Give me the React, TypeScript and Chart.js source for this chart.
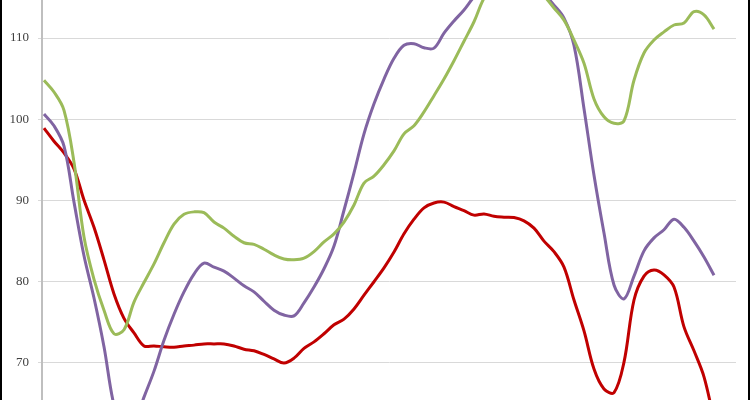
import React, { useEffect, useRef } from "react";
import { Chart, registerables } from "chart.js";

Chart.register(...registerables);

const greenValues = [
  104.8, 103.35, 101.1, 94.7, 85.5, 80.3, 76.5, 73.6, 74.1, 77.5,
  79.9, 82.2, 84.8, 87.1, 88.3, 88.6, 88.5, 87.35, 86.6, 85.6,
  84.8, 84.6, 84.0, 83.3, 82.8, 82.7, 82.9, 83.7, 84.9, 85.9,
  87.35, 89.45, 92.15, 93.0, 94.4, 96.1, 98.2, 99.2, 100.9, 102.9,
  104.95, 107.2, 109.6, 112.0, 114.9, 116.5, 117.5, 118.0, 117.5, 116.5,
  115.2, 113.7, 112.2, 109.75, 106.9, 102.5, 100.3, 99.5, 99.8, 104.8,
  108.15, 109.75, 110.75, 111.6, 111.85, 113.25, 112.85, 111.1,
];

const purpleValues = [
  100.65, 99.2, 96.7, 89.8, 83.2, 78.0, 72.0, 64.8, 61.7, 62.5,
  65.8, 69.0, 72.8, 76.0, 78.75, 80.95, 82.3, 81.8, 81.3, 80.45,
  79.5, 78.75, 77.6, 76.5, 75.9, 75.8, 77.4, 79.35, 81.6, 84.4,
  88.8, 93.4, 98.2, 101.9, 104.95, 107.5, 109.1, 109.3, 108.8, 108.75,
  110.6, 112.1, 113.45, 115.05, 116.2, 117.0, 117.5, 117.5, 117.0, 116.2,
  115.4, 114.05, 112.45, 109.1, 101.3, 93.1, 86.0, 79.6, 77.9, 80.7,
  83.8, 85.4, 86.4, 87.7, 86.7, 85.0, 83.05, 80.8,
];

const redValues = [
  98.9, 97.3, 95.85, 93.9, 90.05, 86.7, 82.7, 78.5, 75.5, 73.7,
  72.1, 72.1, 72.0, 71.95, 72.1, 72.2, 72.35, 72.35, 72.35, 72.1,
  71.7, 71.5, 71.05, 70.5, 70.0, 70.6, 71.8, 72.6, 73.6, 74.7,
  75.4, 76.65, 78.35, 80.0, 81.7, 83.65, 85.9, 87.7, 89.1, 89.7,
  89.8, 89.25, 88.75, 88.2, 88.35, 88.05, 87.95, 87.9, 87.5, 86.6,
  85.0, 83.7, 81.8, 77.75, 73.95, 69.25, 66.8, 66.35, 70.1, 77.75,
  80.7, 81.45, 80.85, 79.35, 74.45, 71.5, 68.3, 63.0,
];

const yTickValues = [70, 80, 90, 100, 110];

const seriesNames = ["Green", "Purple", "Red"];
const seriesColors = ["#9bbb59", "#8064a2", "#c00000"];

export default function App() {
  const canvasRef = useRef<HTMLCanvasElement | null>(null);

  useEffect(() => {
    document.body.style.margin = "0";
    const canvas = canvasRef.current;
    if (!canvas) return;
    const n = greenValues.length;
    const toPts = (arr: number[]) => arr.map((v, i) => ({ x: i, y: v }));
    const seriesData = [greenValues, purpleValues, redValues];

    const borderPlugin = {
      id: "frameBorders",
      afterDraw(chart: any) {
        const ctx = chart.ctx;
        ctx.save();
        ctx.fillStyle = "#000";
        ctx.fillRect(0, 0, 2, chart.height);
        ctx.fillRect(chart.width - 2, 0, 2, chart.height);
        ctx.restore();
      },
    };

    const chart = new Chart(canvas, {
      type: "line",
      data: {
        datasets: seriesData.map((arr, k) => ({
          label: seriesNames[k],
          data: toPts(arr),
          borderColor: seriesColors[k],
          backgroundColor: seriesColors[k],
          borderWidth: 3,
          pointRadius: 0,
          tension: 0.35,
          fill: false,
        })),
      },
      options: {
        animation: false,
        responsive: false,
        maintainAspectRatio: false,
        layout: { padding: { left: 0, right: 14, top: 0, bottom: 0 } },
        plugins: {
          legend: { display: false },
          tooltip: { enabled: false },
        },
        scales: {
          x: {
            type: "linear",
            display: false,
            min: -0.2,
            max: n - 1 + 2.2,
          },
          y: {
            type: "linear",
            min: 65.446,
            max: 114.677,
            afterBuildTicks: (axis: any) => {
              axis.ticks = yTickValues.map((v) => ({ value: v }));
            },
            afterFit: (scale: any) => {
              scale.width = 42;
              scale.paddingTop = 0;
              scale.paddingBottom = 0;
            },
            grid: {
              color: "#d9d9d9",
              lineWidth: 1,
              tickLength: 4,
              drawTicks: true,
            },
            border: { display: true, color: "#bfbfbf", width: 2 },
            ticks: {
              padding: 9,
              color: "#404040",
              font: { family: "'Liberation Serif', serif", size: 13 },
            },
          },
        },
      },
      plugins: [borderPlugin],
    });

    return () => chart.destroy();
  }, []);

  return (
    <div style={{ position: "absolute", left: 0, top: 0, width: 750, height: 400, background: "#fff" }}>
      <canvas ref={canvasRef} width={750} height={400} style={{ display: "block" }} />
    </div>
  );
}
